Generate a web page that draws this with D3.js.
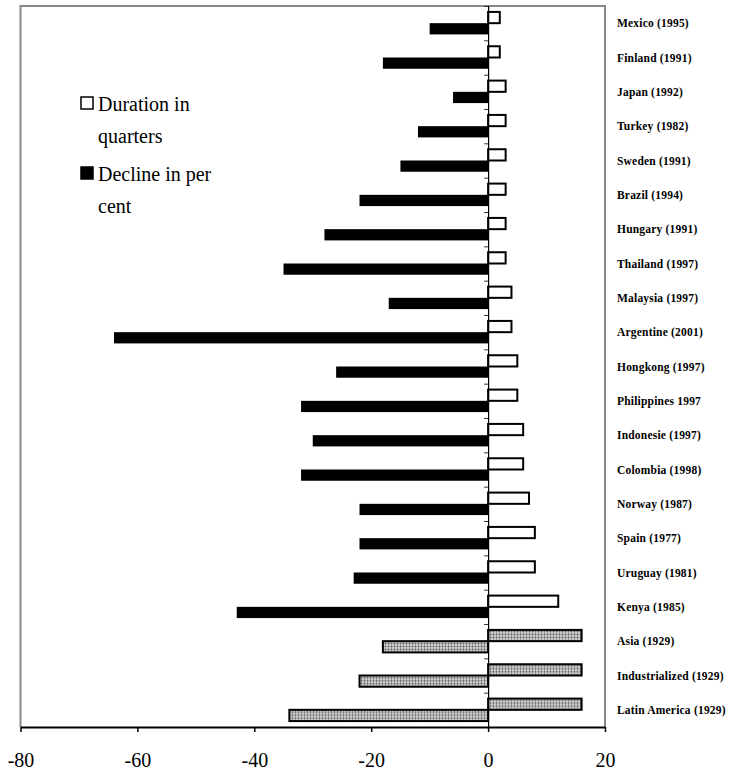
<!DOCTYPE html>
<html>
<head>
<meta charset="utf-8">
<script src="https://cdn.jsdelivr.net/npm/d3@7"></script>
<style>
  body { margin: 0; background: #fff; }
  svg { display: block; }
  .rowlabel { font-family: 'Liberation Serif', serif; font-size: 11.5px; font-weight: bold; letter-spacing: 0.2px; }
  .ticklabel { font-family: 'Liberation Serif', serif; font-size: 20px; }
  .legendtext { font-family: 'Liberation Serif', serif; font-size: 20px; }
</style>
</head>
<body>
<div id="chart"></div>
<script>
'use strict';
// Data
const countries = ['Mexico (1995)', 'Finland (1991)', 'Japan (1992)', 'Turkey (1982)', 'Sweden (1991)',
    'Brazil (1994)', 'Hungary (1991)', 'Thailand (1997)', 'Malaysia (1997)', 'Argentine (2001)',
    'Hongkong (1997)', 'Philippines 1997', 'Indonesie (1997)', 'Colombia (1998)', 'Norway (1987)',
    'Spain (1977)', 'Uruguay (1981)', 'Kenya (1985)', 'Asia (1929)', 'Industrialized (1929)',
    'Latin America (1929)']
const duration = [2, 2, 3, 3, 3, 3, 3, 3, 4, 4, 5, 5, 6, 6, 7, 8, 8, 12, 16, 16, 16]
const decline = [-10, -18, -6, -12, -15, -22, -28, -35, -17, -64, -26, -32, -30, -32, -22, -22, -23, -43, -18, -22, -34]
const depression1929 = ['Asia (1929)', 'Industrialized (1929)', 'Latin America (1929)']
const xTicks = [-80, -60, -40, -20, 0, 20]
const legendItems = [
    { key: 'dur', lines: ['Duration in', 'quarters'] },
    { key: 'dec', lines: ['Decline in per', 'cent'] }
]

const data = countries.map((c, i) => ({ name: c, dur: duration[i], dec: decline[i], old: depression1929.includes(c) }))

const W = 740, H = 776
const plot = { left: 20.5, right: 605, top: 6, bottom: 727 }

const x = d3.scaleLinear().domain([-80, 20]).range([plot.left, plot.right])
const y = d3.scaleBand().domain(countries).range([plot.top, plot.bottom])
    .paddingInner(0.345).paddingOuter(0.1725)
const sub = d3.scaleBand().domain(['dur', 'dec']).range([0, y.bandwidth()])

const svg = d3.select('#chart').append('svg')
    .attr('width', W)
    .attr('height', H)

// dotted fill for the 1929 bars
const pat = svg.append('defs').append('pattern')
    .attr('id', 'dots')
    .attr('patternUnits', 'userSpaceOnUse')
    .attr('width', 3).attr('height', 3)
pat.append('rect').attr('width', 3).attr('height', 3).attr('fill', '#d4d4d4')
pat.append('circle').attr('cx', 1.5).attr('cy', 1.5).attr('r', 1).attr('fill', '#555')

// plot frame (gray top/left/right)
svg.append('path')
    .attr('d', `M${plot.left},${plot.bottom} L${plot.left},${plot.top} L${plot.right},${plot.top} L${plot.right},${plot.bottom}`)
    .attr('fill', 'none')
    .attr('stroke', '#888')
    .attr('stroke-width', 2)

// bars
const rows = svg.append('g').selectAll('g.row')
    .data(data)
    .join('g')
    .attr('class', 'row')
    .attr('transform', d => `translate(0,${y(d.name)})`)

rows.append('rect')
    .attr('x', x(0))
    .attr('y', sub('dur'))
    .attr('width', d => x(d.dur) - x(0))
    .attr('height', sub.bandwidth())
    .attr('fill', d => d.old ? 'url(#dots)' : '#fff')
    .attr('stroke', '#000')
    .attr('stroke-width', 2)

rows.append('rect')
    .attr('x', d => x(d.dec))
    .attr('y', sub('dec'))
    .attr('width', d => x(0) - x(d.dec))
    .attr('height', sub.bandwidth())
    .attr('fill', d => d.old ? 'url(#dots)' : '#000')
    .attr('stroke', '#000')
    .attr('stroke-width', d => d.old ? 2 : 0)

// zero line with category ticks
const yAxis = d3.axisLeft(d3.scaleLinear().domain([0, countries.length]).range([plot.top, plot.bottom]))
    .ticks(countries.length).tickSize(4).tickFormat('')
svg.append('g')
    .attr('transform', `translate(${x(0)},0)`)
    .call(yAxis)
    .call(g => g.select('.domain').attr('stroke', '#000').attr('stroke-width', 1.2))
    .call(g => g.selectAll('.tick line').attr('stroke', '#333'))

// x axis
svg.append('g')
    .attr('transform', `translate(0,${plot.bottom})`)
    .call(d3.axisBottom(x).tickValues(xTicks).tickSize(5).tickSizeOuter(0).tickPadding(21).tickFormat(d => String(d)))
    .call(g => g.select('.domain').attr('stroke', '#000').attr('stroke-width', 2))
    .call(g => g.selectAll('.tick line').attr('stroke', '#000').attr('stroke-width', 1.5))
    .call(g => g.selectAll('.tick text').attr('class', 'ticklabel').attr('fill', '#000'))

// category labels on the right
svg.append('g').selectAll('text')
    .data(countries)
    .join('text')
    .attr('class', 'rowlabel')
    .attr('x', 617)
    .attr('y', d => y(d) + y.bandwidth() / 2)
    .attr('dy', '0.35em')
    .text(d => d)

// legend
const legend = svg.append('g').selectAll('g')
    .data(legendItems)
    .join('g')
    .attr('transform', (d, i) => `translate(81,${97 + i * 70})`)
legend.append('rect')
    .attr('width', 12).attr('height', 12)
    .attr('fill', d => d.key === 'dur' ? '#fff' : '#000')
    .attr('stroke', '#000')
    .attr('stroke-width', 1.5)
legend.append('text')
    .attr('class', 'legendtext')
    .selectAll('tspan')
    .data(d => d.lines)
    .join('tspan')
    .attr('x', 17)
    .attr('y', (d, i) => 14 + i * 32)
    .text(d => d)
</script>
</body>
</html>
